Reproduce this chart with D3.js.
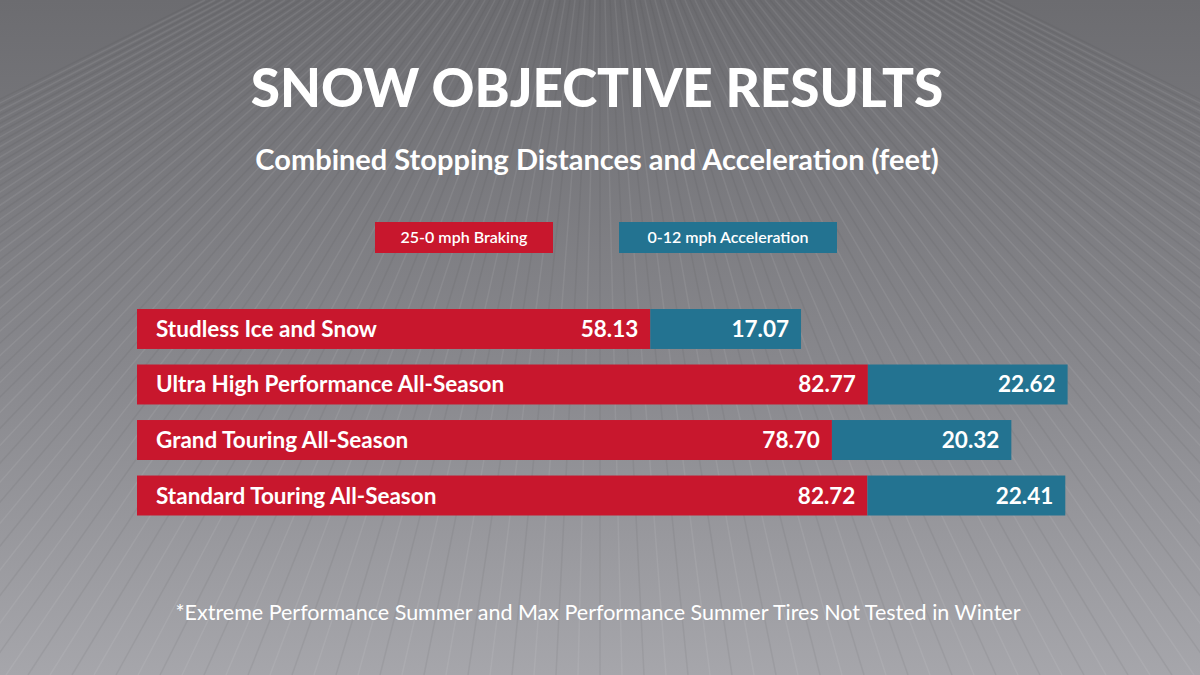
<!DOCTYPE html>
<html>
<head>
<meta charset="utf-8">
<script src="https://cdn.jsdelivr.net/npm/d3@7"></script>
<style>
  body { margin: 0; background: #777; }
  text { font-family: Lato, "Open Sans", sans-serif; fill: #fff; }
</style>
</head>
<body>
<script>
// chart values
var categories = ["Studless Ice and Snow", "Ultra High Performance All-Season", "Grand Touring All-Season", "Standard Touring All-Season"];
var braking = [58.13, 82.77, 78.70, 82.72];
var accel = [17.07, 22.62, 20.32, 22.41];
var seriesNames = ["25-0 mph Braking", "0-12 mph Acceleration"];

var W = 1200, H = 675;
var red = "#c8172d", blue = "#237391";

var svg = d3.select("body").append("svg").attr("width", W).attr("height", H);

// snowy background
var defs = svg.append("defs");
var g = defs.append("linearGradient").attr("id", "bg").attr("x1", 0).attr("y1", 0).attr("x2", 0).attr("y2", 1);
g.append("stop").attr("offset", "0%").attr("stop-color", "#6c6c70");
g.append("stop").attr("offset", "55%").attr("stop-color", "#88888d");
g.append("stop").attr("offset", "100%").attr("stop-color", "#a6a6ab");
svg.append("rect").attr("width", W).attr("height", H).attr("fill", "url(#bg)");

// faint converging track lines
var tracks = svg.append("g").attr("opacity", 0.07);
for (var i = -80; i <= 80; i++) {
  tracks.append("line")
    .attr("x1", 600 + i * 5).attr("y1", 0)
    .attr("x2", 600 + i * 22).attr("y2", H)
    .attr("stroke", i % 2 ? "#fff" : "#333").attr("stroke-width", 1.5);
}

svg.append("text").attr("x", 597).attr("y", 107).attr("text-anchor", "middle")
  .style("font-size", "53px").style("font-weight", 900).text("SNOW OBJECTIVE RESULTS");
svg.append("text").attr("x", 597).attr("y", 170).attr("text-anchor", "middle")
  .style("font-size", "29px").style("font-weight", 700).text("Combined Stopping Distances and Acceleration (feet)");

// legend
var legend = [{x: 375, w: 178, c: red}, {x: 619, w: 218, c: blue}];
legend.forEach(function(l, i) {
  svg.append("rect").attr("x", l.x).attr("y", 222).attr("width", l.w).attr("height", 31).attr("fill", l.c);
  svg.append("text").attr("x", l.x + l.w / 2).attr("y", 243).attr("text-anchor", "middle")
    .style("font-size", "16px").style("font-weight", 600).text(seriesNames[i]);
});

var x = d3.scaleLinear().domain([0, 100]).range([137, 137 + 883]);
var y = d3.scaleBand().domain(categories).range([309, 515.5]).paddingInner(0.28).paddingOuter(0);

var rows = svg.selectAll(".row").data(categories).join("g").attr("class", "row");
rows.append("rect").attr("x", x(0)).attr("y", function(d) { return y(d); })
  .attr("width", function(d, i) { return x(braking[i]) - x(0); })
  .attr("height", y.bandwidth()).attr("fill", red);
rows.append("rect").attr("x", function(d, i) { return x(braking[i]); }).attr("y", function(d) { return y(d); })
  .attr("width", function(d, i) { return x(braking[i] + accel[i]) - x(braking[i]); })
  .attr("height", y.bandwidth()).attr("fill", blue);
rows.append("text").attr("x", 156).attr("y", function(d) { return y(d) + y.bandwidth() / 2 + 8; })
  .style("font-size", "22.5px").style("font-weight", 700).text(function(d) { return d; });
rows.append("text").attr("x", function(d, i) { return x(braking[i]) - 12; })
  .attr("y", function(d) { return y(d) + y.bandwidth() / 2 + 8; }).attr("text-anchor", "end")
  .style("font-size", "22.5px").style("font-weight", 700).text(function(d, i) { return braking[i].toFixed(2); });
rows.append("text").attr("x", function(d, i) { return x(braking[i] + accel[i]) - 12; })
  .attr("y", function(d) { return y(d) + y.bandwidth() / 2 + 8; }).attr("text-anchor", "end")
  .style("font-size", "22.5px").style("font-weight", 700).text(function(d, i) { return accel[i].toFixed(2); });

svg.append("text").attr("x", 598).attr("y", 620).attr("text-anchor", "middle")
  .style("font-size", "21.5px").text("*Extreme Performance Summer and Max Performance Summer Tires Not Tested in Winter");
</script>
</body>
</html>
